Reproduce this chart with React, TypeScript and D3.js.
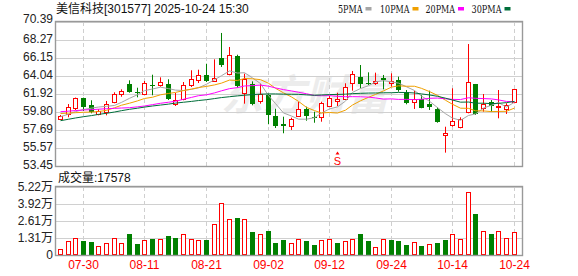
import React from "react";
import * as d3 from "d3";

const dates = [
  "07-25","07-28","07-29","07-30","07-31","08-01","08-04","08-05","08-06","08-07",
  "08-08","08-11","08-12","08-13","08-14","08-15","08-18","08-19","08-20","08-21",
  "08-22","08-25","08-26","08-27","08-28","08-29","09-01","09-02","09-03","09-04",
  "09-05","09-08","09-09","09-10","09-11","09-12","09-15","09-16","09-17","09-18",
  "09-19","09-22","09-23","09-24","09-25","09-26","09-29","09-30","10-09","10-10",
  "10-13","10-14","10-15","10-16","10-17","10-20","10-21","10-22","10-23","10-24",
];
const openP = [
  58.94,59.57,60.24,61.41,60.59,59.53,59.80,61.01,61.88,63.10,
  62.15,61.88,63.01,62.98,63.10,60.70,61.30,62.94,63.60,64.19,
  63.45,66.15,64.24,66.39,62.07,63.14,61.06,61.84,59.30,58.39,
  58.19,59.37,60.12,59.18,59.18,60.55,61.13,61.30,63.18,63.88,
  63.18,63.18,63.77,63.18,63.57,62.19,61.01,61.30,60.74,60.12,
  57.13,58.24,58.07,59.84,63.10,60.24,60.94,60.42,60.16,61.01,
];
const highP = [
  59.45,60.74,61.50,61.49,61.18,60.12,61.10,62.12,62.47,63.53,
  62.66,63.45,64.19,63.88,63.65,62.04,63.33,64.71,64.78,65.48,
  66.00,69.10,67.45,66.54,64.31,63.41,63.14,61.96,60.19,59.25,
  59.13,61.01,60.43,59.84,61.01,61.68,62.07,63.18,64.63,65.33,
  64.47,64.43,64.16,64.35,63.96,62.39,62.31,61.80,62.31,60.36,
  58.07,62.59,59.18,67.80,63.10,61.92,61.21,62.39,60.83,62.47,
];
const lowP = [
  58.86,59.18,60.04,59.92,59.65,59.41,59.41,60.83,61.60,62.07,
  61.53,61.80,61.77,62.78,61.21,60.51,61.18,62.74,63.21,63.33,
  63.33,65.10,64.12,62.66,60.78,60.59,60.78,58.36,57.92,57.30,
  57.69,59.25,58.78,58.54,58.66,60.43,60.51,61.21,62.31,62.59,
  62.98,62.98,62.47,62.78,62.19,60.71,60.16,60.24,60.04,58.54,
  55.02,58.07,57.88,59.65,59.45,59.84,59.84,59.06,59.57,60.83,
];
const closeP = [
  59.33,60.36,61.41,60.43,59.77,59.96,60.78,61.92,62.25,62.15,
  62.07,63.18,62.90,63.30,61.33,61.18,62.94,63.65,64.12,63.45,
  63.84,65.30,66.47,62.86,63.65,60.78,61.96,59.41,58.18,58.12,
  58.98,60.12,59.37,59.10,60.83,61.41,61.30,62.78,64.24,63.10,
  63.06,63.49,63.57,63.49,62.39,60.90,61.30,60.31,60.43,58.66,
  57.30,58.74,58.98,63.30,59.53,60.74,60.48,60.52,60.60,62.47,
];
const volume = [
  4600,10500,12800,10700,10000,6900,9000,12800,9000,16100,
  8400,11300,12300,12000,14600,13000,15900,12300,11300,11500,
  23600,39700,27400,28700,27400,17700,16100,18400,9200,11500,
  9000,12600,10600,7600,11800,12600,9100,11100,12600,15900,
  10600,6500,12600,11300,10600,7600,9600,6800,8800,9100,
  11300,16400,12100,48100,31700,18600,15900,18600,12800,17578,
];

// moving-average values before a full window is available
const ma5Head = [59.25, 59.55, 59.85, 60.1];
const ma10Head = [59.62, 59.68, 59.72, 59.77, 59.8, 59.85, 60.0, 60.3, 60.6];
const ma20Head = [59.84, 59.9, 59.97, 60.04, 60.08, 60.13, 60.19, 60.23, 60.27, 60.31,
  60.41, 60.51, 60.67, 60.83, 60.95, 61.06, 61.3, 61.52, 61.72];
const ma30Head = [58.78, 58.95, 59.1, 59.25, 59.38, 59.52, 59.65, 59.8, 59.96, 60.12,
  60.25, 60.38, 60.51, 60.62, 60.73, 60.85, 60.95, 61.05, 61.15, 61.25,
  61.38, 61.5, 61.6, 61.7, 61.78, 61.85, 61.9, 61.93, 61.93];

const priceTicks = [70.39, 68.27, 66.15, 64.04, 61.92, 59.8, 57.69, 55.57, 53.45];
const volTicks = [52200, 39200, 26100, 13100, 0];
const volTickLabels = ["5.22万", "3.92万", "2.61万", "1.31万", "0"];
const xLabelDates = ["07-30", "08-11", "08-21", "09-02", "09-12", "09-24", "10-14", "10-24"];
const maNames = ["5PMA", "10PMA", "20PMA", "30PMA"];
const maPeriods = [5, 10, 20, 30];
const maColors = ["#a6a6a6", "#f0a000", "#ff00ff", "#006e3a"];
const stockTitle = "美信科技[301577] 2025-10-24 15:30";
const signalDate = "09-15";

const RED = "#ff0000";
const GREEN = "#008000";
const NUM_FONT = "'Liberation Sans', Arial, sans-serif";
const CJK_FONT = "'Liberation Sans', 'Noto Sans CJK SC', sans-serif";

function movingAvg(vals: number[], n: number, head: number[]) {
  return vals.map((_, i) => (i < n - 1 ? head[i] : (d3.mean(vals.slice(i - n + 1, i + 1)) as number)));
}

export default function App() {
  const W = 578, H = 276;
  const L = 56, R = 522;
  const mTop = 22, mBot = 166, vTop = 187, vBot = 255;
  const n = dates.length;

  const x = d3.scaleBand<number>().domain(d3.range(n)).range([56.5, 518.1]).padding(0);
  const bw = x.bandwidth();
  const cx = (i: number) => Math.floor((x(i) as number) + bw / 2);
  const y = d3.scaleLinear().domain([53.45, 70.39]).range([mBot, mTop]);
  const yv = d3.scaleLinear().domain([0, 52200]).range([vBot, vTop]);

  const heads = [ma5Head, ma10Head, ma20Head, ma30Head];
  const mas = maPeriods.map((p, k) => movingAvg(closeP, p, heads[k]));
  const line = d3.line<number>().x((_, i) => cx(i) + 0.5).y((d) => y(d));

  const labelIdx = xLabelDates.map((d) => dates.indexOf(d));
  const sigIdx = dates.indexOf(signalDate);

  const candles = dates.map((_, i) => {
    const o = openP[i], c = closeP[i], h = highP[i], l = lowP[i];
    const X = cx(i);
    const up = c >= o;
    const yt = Math.round(y(Math.max(o, c)));
    const yb = Math.round(y(Math.min(o, c)));
    const yh = y(h), yl = y(l);
    if (up) {
      return (
        <g key={i}>
          <line x1={X + 0.5} x2={X + 0.5} y1={yh} y2={yt} stroke={RED} />
          <line x1={X + 0.5} x2={X + 0.5} y1={yb + 1} y2={yl} stroke={RED} />
          {yb - yt >= 1 ? (
            <rect x={X - 1.5} y={yt + 0.5} width={4} height={yb - yt} fill="#fff" stroke={RED} />
          ) : (
            <line x1={X - 2} x2={X + 3} y1={yt + 0.5} y2={yt + 0.5} stroke={RED} />
          )}
        </g>
      );
    }
    return (
      <g key={i}>
        <line x1={X + 0.5} x2={X + 0.5} y1={yh} y2={yl} stroke={GREEN} />
        <rect x={X - 2} y={yt} width={5} height={Math.max(1, yb - yt)} fill={GREEN} />
      </g>
    );
  });

  const volBars = volume.map((v, i) => {
    const X = cx(i);
    const up = i === 0 ? true : closeP[i] >= closeP[i - 1];
    const yt = Math.round(yv(v));
    return up ? (
      <rect key={i} x={X - 1.5} y={yt + 0.5} width={4} height={vBot - yt - 1} fill="#fff" stroke={RED} />
    ) : (
      <rect key={i} x={X - 2} y={yt} width={5} height={vBot - yt} fill={GREEN} />
    );
  });

  const legendX = [338, 380, 425.5, 471.5];
  const legendW = [24.5, 29.5, 29.5, 30];

  return (
    <svg width={W} height={H} style={{ position: "absolute", left: 0, top: 0, background: "#fff" }}>
      <rect x={0} y={0} width={W} height={H} fill="#fff" />
      {/* watermark */}
      <text x={305} y={110} textAnchor="middle" fontSize={42} fontWeight="bold"
        fontFamily="'Noto Sans CJK SC', sans-serif" fill="#ececec" fontStyle="italic">东方财富</text>

      {/* header */}
      <text x={56} y={13} fontSize={12} fontFamily={CJK_FONT} fill="#111">{stockTitle}</text>
      {maNames.map((nm, k) => (
        <g key={nm}>
          <text x={legendX[k]} y={12.5} fontSize={11} fontFamily="'DejaVu Serif', serif" fill="#111"
            textLength={legendW[k]} lengthAdjust="spacingAndGlyphs">{nm}</text>
          <rect x={legendX[k] + legendW[k] + 3} y={7} width={6} height={3.5} fill={maColors[k]} />
        </g>
      ))}

      {/* main grid */}
      {priceTicks.map((t, k) => (
        <g key={"pt" + k}>
          <line x1={L} x2={R} y1={Math.round(y(t)) + 0.5} y2={Math.round(y(t)) + 0.5} stroke="#d0d0d0" />
          <text x={53} y={(k === 0 ? y(t) - 3 : y(t) - 1)} dy="0.35em" textAnchor="end" fontSize={12}
            fontFamily={NUM_FONT} fill="#222">{t.toFixed(2)}</text>
        </g>
      ))}
      {volTicks.map((t, k) => (
        <g key={"vt" + k}>
          <line x1={L} x2={R} y1={Math.round(yv(t)) + 0.5} y2={Math.round(yv(t)) + 0.5} stroke="#d0d0d0" />
          <text x={53} y={yv(t)} dy="0.35em" textAnchor="end" fontSize={12}
            fontFamily={CJK_FONT} fill="#222">{volTickLabels[k]}</text>
        </g>
      ))}
      {labelIdx.map((i, k) => (
        <g key={"xl" + k}>
          <line x1={cx(i) + 0.5} x2={cx(i) + 0.5} y1={mTop} y2={mBot} stroke="#cfcfcf" strokeDasharray="4,3" />
          <line x1={cx(i) + 0.5} x2={cx(i) + 0.5} y1={vTop} y2={vBot} stroke="#cfcfcf" strokeDasharray="4,3" />
          <text x={cx(i) + 0.5} y={269} textAnchor="middle" fontSize={12} fontFamily={NUM_FONT} fill={RED}>
            {xLabelDates[k]}
          </text>
        </g>
      ))}

      {/* candles */}
      {candles}

      {/* moving averages */}
      {mas.map((m, k) => (
        <path key={"ma" + k} d={line(m) as string} fill="none" stroke={maColors[k]} strokeWidth={1} />
      ))}

      {/* signal marker */}
      <path d={`M${cx(sigIdx) - 1.5},154.5 L${cx(sigIdx) + 2.5},154.5 L${cx(sigIdx) + 0.5},151.5 Z`} fill={RED} />
      <text x={cx(sigIdx) + 0.5} y={165} textAnchor="middle" fontSize={11} fontFamily={NUM_FONT} fill={RED}>S</text>

      {/* volume */}
      <text x={58} y={182} fontSize={12} fontFamily={CJK_FONT} fill="#111">成交量:{volume[n - 1]}</text>
      {volBars}

      {/* frames */}
      <rect x={L - 0.5} y={mTop - 0.5} width={R - L + 1} height={mBot - mTop + 1} fill="none" stroke="#999" strokeWidth={1.4} />
      <rect x={L - 0.5} y={vTop - 0.5} width={R - L + 1} height={vBot - vTop + 1} fill="none" stroke="#999" strokeWidth={1.4} />
    </svg>
  );
}
